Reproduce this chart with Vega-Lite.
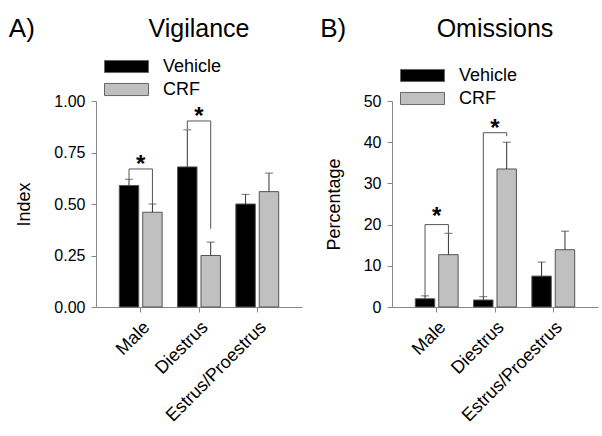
{
  "$schema": "https://vega.github.io/schema/vega-lite/v6.json",
  "padding": {"left": 8, "top": 16, "right": 5, "bottom": 5},
  "spacing": 18,
  "datasets": {
    "bars": [
      {"panel": "A", "group": "Male", "series": "Vehicle", "value": 0.59, "upper": 0.62},
      {"panel": "A", "group": "Male", "series": "CRF", "value": 0.46, "upper": 0.50},
      {"panel": "A", "group": "Diestrus", "series": "Vehicle", "value": 0.68, "upper": 0.86},
      {"panel": "A", "group": "Diestrus", "series": "CRF", "value": 0.25, "upper": 0.315},
      {"panel": "A", "group": "Estrus/Proestrus", "series": "Vehicle", "value": 0.50, "upper": 0.547},
      {"panel": "A", "group": "Estrus/Proestrus", "series": "CRF", "value": 0.56, "upper": 0.65},
      {"panel": "B", "group": "Male", "series": "Vehicle", "value": 2.0, "upper": 2.7},
      {"panel": "B", "group": "Male", "series": "CRF", "value": 12.7, "upper": 17.9},
      {"panel": "B", "group": "Diestrus", "series": "Vehicle", "value": 1.7, "upper": 2.5},
      {"panel": "B", "group": "Diestrus", "series": "CRF", "value": 33.5, "upper": 40.0},
      {"panel": "B", "group": "Estrus/Proestrus", "series": "Vehicle", "value": 7.5, "upper": 10.9},
      {"panel": "B", "group": "Estrus/Proestrus", "series": "CRF", "value": 13.9, "upper": 18.4}
    ],
    "brackets": [
      {"panel": "A", "id": "A1", "ord": 1, "group": "Male", "series": "Vehicle", "y": 0.62},
      {"panel": "A", "id": "A1", "ord": 2, "group": "Male", "series": "Vehicle", "y": 0.67},
      {"panel": "A", "id": "A1", "ord": 3, "group": "Male", "series": "CRF", "y": 0.67},
      {"panel": "A", "id": "A1", "ord": 4, "group": "Male", "series": "CRF", "y": 0.50},
      {"panel": "A", "id": "A2", "ord": 1, "group": "Diestrus", "series": "Vehicle", "y": 0.864},
      {"panel": "A", "id": "A2", "ord": 2, "group": "Diestrus", "series": "Vehicle", "y": 0.903},
      {"panel": "A", "id": "A2", "ord": 3, "group": "Diestrus", "series": "CRF", "y": 0.903},
      {"panel": "A", "id": "A2", "ord": 4, "group": "Diestrus", "series": "CRF", "y": 0.38},
      {"panel": "B", "id": "B1", "ord": 1, "group": "Male", "series": "Vehicle", "y": 2.5},
      {"panel": "B", "id": "B1", "ord": 2, "group": "Male", "series": "Vehicle", "y": 20.0},
      {"panel": "B", "id": "B1", "ord": 3, "group": "Male", "series": "CRF", "y": 20.0},
      {"panel": "B", "id": "B1", "ord": 4, "group": "Male", "series": "CRF", "y": 18.0},
      {"panel": "B", "id": "B2", "ord": 1, "group": "Diestrus", "series": "Vehicle", "y": 2.5},
      {"panel": "B", "id": "B2", "ord": 2, "group": "Diestrus", "series": "Vehicle", "y": 42.3},
      {"panel": "B", "id": "B2", "ord": 3, "group": "Diestrus", "series": "CRF", "y": 42.3},
      {"panel": "B", "id": "B2", "ord": 4, "group": "Diestrus", "series": "CRF", "y": 41.5}
    ],
    "stars": [
      {"panel": "A", "group": "Male", "y": 0.72, "label": "*"},
      {"panel": "A", "group": "Diestrus", "y": 0.95, "label": "*"},
      {"panel": "B", "group": "Male", "y": 23.4, "label": "*"},
      {"panel": "B", "group": "Diestrus", "y": 44.7, "label": "*"}
    ]
  },
  "config": {
    "font": "Liberation Sans",
    "view": {"stroke": null},
    "axis": {
      "domainColor": "#888888",
      "tickColor": "#888888",
      "labelColor": "#000000",
      "titleColor": "#000000",
      "labelFont": "Liberation Sans",
      "titleFont": "Liberation Sans",
      "labelFontSize": 16,
      "titleFontSize": 18,
      "titleFontWeight": "normal",
      "grid": false,
      "tickSize": 5,
      "labelPadding": 6,
      "titlePadding": 20
    },
    "legend": {
      "orient": "none",
      "legendX": 19,
      "legendY": -46,
      "padding": 0,
      "symbolType": "M-2,-0.55L2,-0.55L2,0.55L-2,0.55Z",
      "symbolSize": 484,
      "symbolStrokeColor": "#666666",
      "symbolStrokeWidth": 1,
      "labelFontSize": 18,
      "labelFont": "Liberation Sans",
      "labelColor": "#000000",
      "labelOffset": 25,
      "rowPadding": 2,
      "direction": "vertical"
    },
    "title": {"font": "Liberation Sans", "fontWeight": "normal", "color": "#000000"}
  },
  "resolve": {"scale": {"color": "independent"}, "legend": {"color": "independent"}},
  "hconcat": [
    {
      "title": {"text": "A)", "fontSize": 26, "anchor": "start", "frame": "bounds", "dx": -7, "dy": 25, "offset": 0},
      "vconcat": [
        {
          "width": 206,
          "height": 206,
          "title": {"text": "Vigilance", "fontSize": 25, "anchor": "middle", "frame": "group", "offset": 51},
          "encoding": {
            "x": {"field": "group", "type": "nominal", "sort": ["Male", "Diestrus", "Estrus/Proestrus"], "scale": {"paddingInner": 0.265, "paddingOuter": 0.4}, "axis": {"title": null, "labelAngle": -45, "labelFontSize": 18}}
          },
          "layer": [
            {
              "data": {"name": "bars"},
              "transform": [{"filter": "datum.panel === 'A'"}],
              "mark": {"type": "bar", "stroke": "#555555", "strokeWidth": 1},
              "encoding": {
                "xOffset": {"field": "series", "type": "nominal", "sort": ["Vehicle", "CRF"], "scale": {"paddingInner": 0.17}},
                "y": {"field": "value", "type": "quantitative", "title": "Index", "scale": {"domain": [0, 1], "nice": false}, "axis": {"values": [0, 0.25, 0.5, 0.75, 1], "format": ".2f"}},
                "color": {"field": "series", "type": "nominal", "sort": ["Vehicle", "CRF"], "scale": {"domain": ["Vehicle", "CRF"], "range": ["#000000", "#c0c0c0"]}, "legend": {"title": null}}
              }
            },
            {
              "data": {"name": "bars"},
              "transform": [{"filter": "datum.panel === 'A'"}],
              "mark": {"type": "rule", "color": "#333333", "strokeWidth": 1},
              "encoding": {
                "xOffset": {"field": "series", "type": "nominal", "sort": ["Vehicle", "CRF"]},
                "y": {"field": "value", "type": "quantitative"},
                "y2": {"field": "upper"}
              }
            },
            {
              "data": {"name": "bars"},
              "transform": [{"filter": "datum.panel === 'A'"}],
              "mark": {"type": "tick", "color": "#333333", "thickness": 1, "size": 8, "orient": "horizontal"},
              "encoding": {
                "xOffset": {"field": "series", "type": "nominal", "sort": ["Vehicle", "CRF"]},
                "y": {"field": "upper", "type": "quantitative"}
              }
            },
            {
              "data": {"name": "brackets"},
              "transform": [{"filter": "datum.panel === 'A'"}],
              "mark": {"type": "line", "color": "#555555", "strokeWidth": 1},
              "encoding": {
                "xOffset": {"field": "series", "type": "nominal", "sort": ["Vehicle", "CRF"]},
                "y": {"field": "y", "type": "quantitative"},
                "detail": {"field": "id"},
                "order": {"field": "ord", "type": "quantitative"}
              }
            },
            {
              "data": {"name": "stars"},
              "transform": [{"filter": "datum.panel === 'A'"}],
              "mark": {"type": "text", "fontSize": 24, "fontWeight": "bold", "baseline": "middle", "dy": 6, "color": "#000000"},
              "encoding": {
                "y": {"field": "y", "type": "quantitative"},
                "text": {"field": "label"}
              }
            }
          ]
        }
      ]
    },
    {
      "title": {"text": "B)", "fontSize": 26, "anchor": "start", "frame": "bounds", "dx": -5, "dy": 25, "offset": 0},
      "vconcat": [
        {
          "width": 206,
          "height": 206,
          "title": {"text": "Omissions", "fontSize": 25, "anchor": "middle", "frame": "group", "offset": 51},
          "encoding": {
            "x": {"field": "group", "type": "nominal", "sort": ["Male", "Diestrus", "Estrus/Proestrus"], "scale": {"paddingInner": 0.265, "paddingOuter": 0.4}, "axis": {"title": null, "labelAngle": -45, "labelFontSize": 18}}
          },
          "layer": [
            {
              "data": {"name": "bars"},
              "transform": [{"filter": "datum.panel === 'B'"}],
              "mark": {"type": "bar", "stroke": "#555555", "strokeWidth": 1},
              "encoding": {
                "xOffset": {"field": "series", "type": "nominal", "sort": ["Vehicle", "CRF"], "scale": {"paddingInner": 0.17}},
                "y": {"field": "value", "type": "quantitative", "title": "Percentage", "scale": {"domain": [0, 50], "nice": false}, "axis": {"values": [0, 10, 20, 30, 40, 50]}},
                "color": {"field": "series", "type": "nominal", "sort": ["Vehicle", "CRF"], "scale": {"domain": ["Vehicle", "CRF"], "range": ["#000000", "#c0c0c0"]}, "legend": {"title": null, "legendY": -37}}
              }
            },
            {
              "data": {"name": "bars"},
              "transform": [{"filter": "datum.panel === 'B'"}],
              "mark": {"type": "rule", "color": "#333333", "strokeWidth": 1},
              "encoding": {
                "xOffset": {"field": "series", "type": "nominal", "sort": ["Vehicle", "CRF"]},
                "y": {"field": "value", "type": "quantitative"},
                "y2": {"field": "upper"}
              }
            },
            {
              "data": {"name": "bars"},
              "transform": [{"filter": "datum.panel === 'B'"}],
              "mark": {"type": "tick", "color": "#333333", "thickness": 1, "size": 8, "orient": "horizontal"},
              "encoding": {
                "xOffset": {"field": "series", "type": "nominal", "sort": ["Vehicle", "CRF"]},
                "y": {"field": "upper", "type": "quantitative"}
              }
            },
            {
              "data": {"name": "brackets"},
              "transform": [{"filter": "datum.panel === 'B'"}],
              "mark": {"type": "line", "color": "#555555", "strokeWidth": 1},
              "encoding": {
                "xOffset": {"field": "series", "type": "nominal", "sort": ["Vehicle", "CRF"]},
                "y": {"field": "y", "type": "quantitative"},
                "detail": {"field": "id"},
                "order": {"field": "ord", "type": "quantitative"}
              }
            },
            {
              "data": {"name": "stars"},
              "transform": [{"filter": "datum.panel === 'B'"}],
              "mark": {"type": "text", "fontSize": 24, "fontWeight": "bold", "baseline": "middle", "dy": 6, "color": "#000000"},
              "encoding": {
                "y": {"field": "y", "type": "quantitative"},
                "text": {"field": "label"}
              }
            }
          ]
        }
      ]
    }
  ]
}
